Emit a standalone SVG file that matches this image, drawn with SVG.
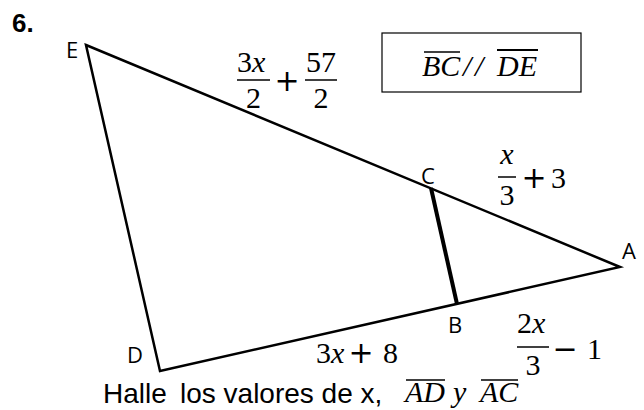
<svg xmlns="http://www.w3.org/2000/svg" width="644" height="410" viewBox="0 0 644 410">
<style>
.edge{stroke:#000;stroke-width:2.5;fill:none;stroke-linecap:round;stroke-linejoin:miter}
.thick{stroke:#000;stroke-width:4;fill:none}
.vlab{font-family:"Open Sans","Liberation Sans",sans-serif;font-size:22px;fill:#000}
.m{font-family:"Liberation Serif",serif;font-size:30px;fill:#000}
.mi{font-family:"Liberation Serif",serif;font-size:30px;font-style:italic;fill:#000}
.op{font-family:"DejaVu Sans","Liberation Sans",sans-serif;font-size:30px;fill:#000;text-anchor:middle}
.c{text-anchor:middle}
.bar{stroke:#000;stroke-width:1.5}
.ov{stroke:#000;stroke-width:1.4}
.txt{font-family:"Liberation Sans",Arial,sans-serif;font-size:28px;fill:#000}
</style>
<rect width="644" height="410" fill="#fff"/>
<text x="12" y="32" font-family="'Liberation Sans',Arial,sans-serif" font-size="26" font-weight="bold">6.</text>

<g id="connectors">
<path class="edge" d="M86,45 L620,267 L160,371 Z"/>
<line class="thick" x1="431" y1="188" x2="457" y2="304"/>
</g>

<g id="E"><text class="vlab" x="66" y="58">E</text></g>
<g id="D"><text class="vlab" x="127" y="363">D</text></g>
<g id="C"><text class="vlab" x="421" y="184">C</text></g>
<g id="A"><text class="vlab" x="622" y="259">A</text></g>
<g id="B"><text class="vlab" x="448" y="333">B</text></g>

<g id="label-EC">
<text class="m" x="237" y="72">3<tspan class="mi">x</tspan></text>
<line class="bar" x1="237" y1="80" x2="270" y2="80"/>
<text class="m c" x="253.5" y="108">2</text>
<text class="op" x="287" y="91">+</text>
<text class="m" x="306" y="72">57</text>
<line class="bar" x1="305" y1="80" x2="337" y2="80"/>
<text class="m c" x="321" y="108">2</text>
</g>

<g id="label-CA">
<text class="mi c" x="507" y="164">x</text>
<line class="bar" x1="498" y1="177" x2="516" y2="177"/>
<text class="m c" x="507" y="205">3</text>
<text class="op" x="534" y="188">+</text>
<text class="m" x="551" y="188">3</text>
</g>

<g id="label-DB">
<text class="m" x="316" y="363">3<tspan class="mi">x</tspan></text>
<text class="op" x="361" y="363">+</text>
<text class="m" x="383" y="363">8</text>
</g>

<g id="label-BA">
<text class="m" x="517" y="333">2<tspan class="mi">x</tspan></text>
<line class="bar" x1="517" y1="347" x2="549" y2="347"/>
<text class="m c" x="533" y="375">3</text>
<text class="op" x="565" y="359">−</text>
<text class="m" x="587" y="359">1</text>
</g>

<g id="parallel">
<rect x="382" y="33" width="199" height="59" fill="none" stroke="#000" stroke-width="1.2"/>
<text class="mi" x="422" y="76">BC</text>
<line class="ov" x1="424" y1="52" x2="460" y2="52"/>
<text class="mi" x="463" y="76">/</text>
<text class="mi" x="475" y="76">/</text>
<text class="mi" x="497" y="76">DE</text>
<line x1="497" y1="50" x2="538" y2="50" stroke="#000" stroke-width="2"/>
</g>

<g id="question">
<text class="txt" x="103" y="403">Halle</text>
<text class="txt" x="180" y="403">los valores de x,</text>
<text class="mi" x="405" y="402">AD</text>
<line class="ov" x1="406" y1="380" x2="445" y2="380"/>
<text class="mi" x="453" y="402">y</text>
<text class="mi" x="480" y="402">AC</text>
<line class="ov" x1="481" y1="380" x2="518" y2="380"/>
</g>
</svg>
